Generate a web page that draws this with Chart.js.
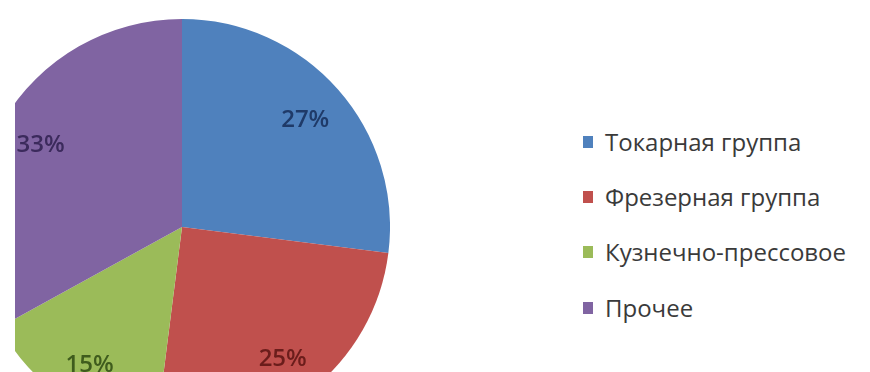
<!DOCTYPE html>
<html>
<head>
<meta charset="utf-8">
<script src="https://cdn.jsdelivr.net/npm/chart.js@4/dist/chart.umd.min.js"></script>
<style>
  body { margin: 0; background: #fff; width: 870px; height: 372px; overflow: hidden; position: relative; }
  #clip { position: absolute; left: 15px; top: 0; width: 855px; height: 372px; overflow: hidden; }
  #pie { position: absolute; left: -41px; top: 19px; }
  #legend { position: absolute; left: 583px; top: 0; font-family: "Open Sans", sans-serif; font-size: 24px; color: #3a3a3a; }
  .item { position: absolute; left: 0; white-space: nowrap; height: 30px; line-height: 30px; }
  .box { position: absolute; left: 0; top: 9px; width: 10px; height: 12px; }
  .txt { position: absolute; left: 22px; top: 0; }
</style>
</head>
<body>
<div id="clip"><canvas id="pie"></canvas></div>
<div id="legend"></div>
<script>
const labels = ['Токарная группа', 'Фрезерная группа', 'Кузнечно-прессовое', 'Прочее']
const values = [27, 25, 15, 33]
const colors = ['#4f81bd', '#c0504d', '#9bbb59', '#8064a2']
const labelColors = ['#1f3a68', '#6b1d1b', '#3f5c1d', '#3b2a5c']
const legendRows = [142, 197, 252, 308]

const canvas = document.getElementById('pie')
canvas.width = 416
canvas.height = 416

// percent text inside each slice
const pctLabels = {
    id: 'pctLabels',
    afterDatasetsDraw(chart) {
        const ctx = chart.ctx
        const meta = chart.getDatasetMeta(0)
        ctx.save()
        ctx.font = '600 24px "Open Sans", sans-serif'
        ctx.textAlign = 'center'
        ctx.textBaseline = 'middle'
        meta.data.forEach((arc, i) => {
            const p = arc.getProps(['x', 'y', 'startAngle', 'endAngle', 'outerRadius'], true)
            const mid = (p.startAngle + p.endAngle) / 2
            const r = p.outerRadius * 0.79
            ctx.fillStyle = labelColors[i]
            ctx.fillText(values[i] + '%', p.x + Math.cos(mid) * r, p.y + Math.sin(mid) * r + 2)
        })
        ctx.restore()
    }
}

const myChart = new Chart(canvas.getContext('2d'), {
    type: 'pie',
    data: {
        labels: labels,
        datasets: [{
            data: values,
            backgroundColor: colors,
            borderWidth: 0
        }]
    },
    options: {
        responsive: false,
        animation: false,
        layout: { padding: 0 },
        plugins: {
            legend: { display: false },
            tooltip: { enabled: false }
        }
    },
    plugins: [pctLabels]
})

// legend on the right
const legend = document.getElementById('legend')
labels.forEach((name, i) => {
    const row = document.createElement('div')
    row.className = 'item'
    row.style.top = (legendRows[i] - 15) + 'px'
    row.innerHTML = '<span class="box" style="background:' + colors[i] + '"></span><span class="txt">' + name + '</span>'
    legend.appendChild(row)
})
</script>
</body>
</html>
